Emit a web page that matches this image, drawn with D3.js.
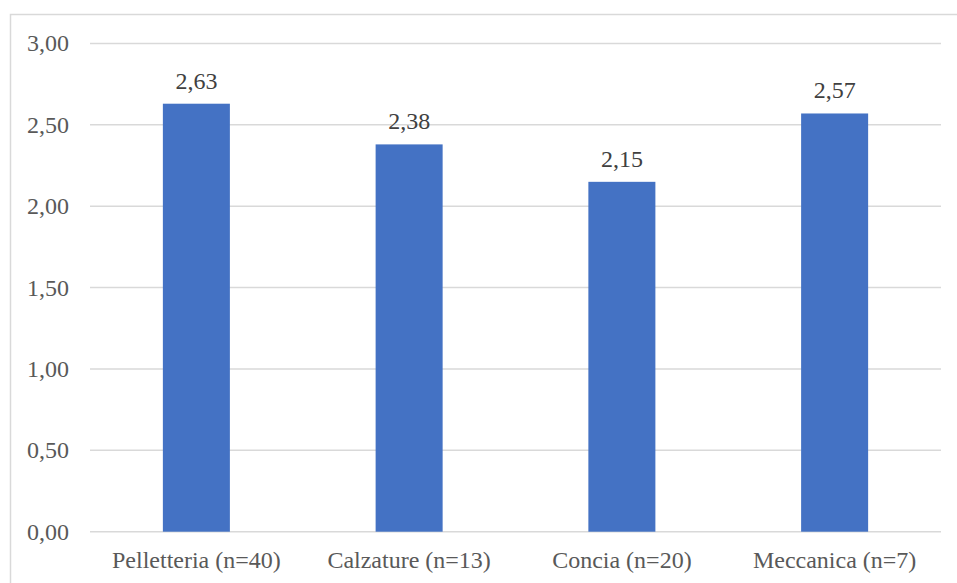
<!DOCTYPE html>
<html><head><meta charset="utf-8">
<script src="https://cdn.jsdelivr.net/npm/d3@7"></script>
<style>body{margin:0;background:#fff;} svg{display:block;}</style>
</head><body>
<svg id="c" width="957" height="583" style="font-family:'Liberation Serif'"></svg>
<script>
const categories = ["Pelletteria (n=40)", "Calzature (n=13)", "Concia (n=20)", "Meccanica (n=7)"];
const values = [2.63, 2.38, 2.15, 2.57];
const yTicks = [0, 0.5, 1, 1.5, 2, 2.5, 3];

const svg = d3.select("#c");
const fmt = v => d3.format(".2f")(v).replace(".", ",");

svg.append("rect").attr("x", 10.5).attr("y", 14.5).attr("width", 960).attr("height", 600)
  .attr("fill", "#fff").attr("stroke", "#d9d9d9").attr("stroke-width", 1.5);

const x = d3.scaleBand().domain(categories).range([90, 941]).paddingInner(0.685).paddingOuter(0.3425);
const y = d3.scaleLinear().domain([0, 3]).range([531.7, 43.5]);

const g = svg.append("g");
g.selectAll("line.grid").data(yTicks).join("line")
  .attr("x1", 90).attr("x2", 941)
  .attr("y1", d => y(d)).attr("y2", d => y(d))
  .attr("stroke", "#d9d9d9").attr("stroke-width", 1.5);

g.selectAll("text.yt").data(yTicks).join("text")
  .attr("x", 69).attr("y", d => y(d)).attr("dy", "0.33em")
  .attr("text-anchor", "end").attr("font-size", 24)
  .attr("style", "font-family:'Liberation Serif'")
  .attr("fill", "#595959").text(fmt);

g.selectAll("rect.bar").data(values).join("rect")
  .attr("x", (d, i) => x(categories[i])).attr("width", x.bandwidth())
  .attr("y", d => y(d)).attr("height", d => y(0) - y(d))
  .attr("fill", "#4472c4");

g.selectAll("text.val").data(values).join("text")
  .attr("x", (d, i) => x(categories[i]) + x.bandwidth() / 2).attr("y", d => y(d) - 15)
  .attr("text-anchor", "middle").attr("font-size", 24)
  .attr("style", "font-family:'Liberation Serif'")
  .attr("fill", "#404040").text(fmt);

g.selectAll("text.cat").data(categories).join("text")
  .attr("x", d => x(d) + x.bandwidth() / 2).attr("y", 568)
  .attr("text-anchor", "middle").attr("font-size", 24)
  .attr("style", "font-family:'Liberation Serif'")
  .attr("fill", "#595959").text(d => d);
</script>
</body></html>
